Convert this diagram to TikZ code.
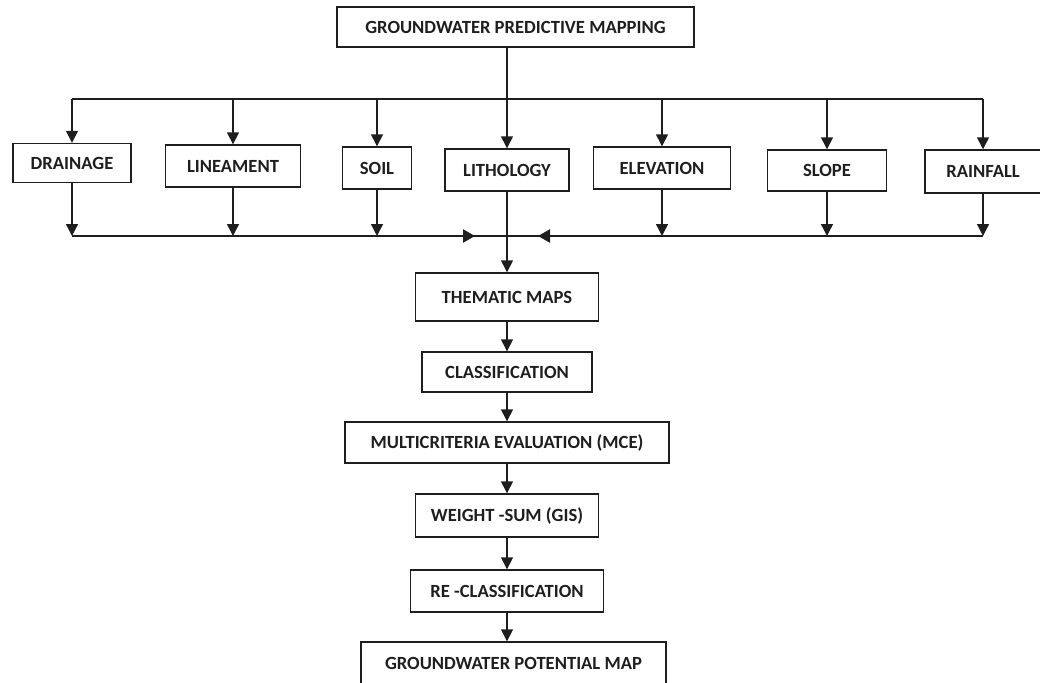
\documentclass[tikz,border=0pt]{standalone}
\usepackage{fontspec}
\setmainfont{Carlito}
\usetikzlibrary{arrows,arrows.meta,shapes}
\definecolor{ink}{HTML}{1E1E1E}
\tikzstyle{box}=[rectangle, draw=ink, text=ink
,line width=1.4pt
,inner sep=0pt
,font=\bfseries\fontsize{18.6}{21}\selectfont
]
\tikzstyle{edge} = [draw=ink,line width=1.4pt,-{Triangle[width=12pt,length=12pt]}]
\tikzstyle{line} = [draw=ink,line width=1.4pt,-]
\tikzstyle{busarrow} = [draw=ink,line width=2.4pt,-{Triangle[width=13pt,length=12pt]}]

\begin{document}
\begin{tikzpicture}[x=1pt,y=-1pt]
    \useasboundingbox (0,0) rectangle (1040,682);
    % Top box
    \node[box, minimum width=357pt, minimum height=40pt] (predmap) at (515.5,27) {GROUNDWATER PREDICTIVE MAPPING};

    % The seven input layers
    \foreach \pos/\name/\wid/\hei/\txt in {{(72,163)/drain/118/39/DRAINAGE}, {(233,166)/linea/135/42/LINEAMENT},
        {(377,168)/soil/69/42/SOIL}, {(507,170)/litho/124/42/LITHOLOGY}, {(662,168)/elev/137/42/ELEVATION},
        {(827,170.5)/slope/119/41/SLOPE}, {(983,171.5)/rain/116/43/RAINFALL}}
        \node[box, minimum width=\wid pt, minimum height=\hei pt] (\name) at \pos {\txt};

    % The processing chain
    \foreach \pos/\name/\wid/\hei/\txt in {{(507,297)/them/183/48/THEMATIC MAPS}, {(507,372)/class/170/40/CLASSIFICATION},
        {(507,442.5)/mce/324/41/MULTICRITERIA EVALUATION (MCE)}, {(507,515.5)/wsum/183/43/WEIGHT -SUM (GIS)},
        {(507,591)/recl/193/42/RE -CLASSIFICATION}, {(513.5,663)/potmap/305/42/GROUNDWATER POTENTIAL MAP}}
        \node[box, minimum width=\wid pt, minimum height=\hei pt] (\name) at \pos {\txt};

    \coordinate (bustop) at (507,99);
    \coordinate (busbot) at (507,236);

    % Split to the layers
    \path[edge] (predmap.south -| litho.north) -- (litho.north);
    \path[line] (drain.north |- bustop) -- (rain.north |- bustop);
    \foreach \name in {drain, linea, soil, elev, slope, rain}
        \path[edge] (\name.north |- bustop) -- (\name.north);

    % Merge back into the thematic maps
    \foreach \name in {drain, linea, soil, elev, slope, rain}
        \path[edge] (\name.south) -- (\name.south |- busbot);
    \path[line] (drain.south |- busbot) -- (rain.south |- busbot);
    \path[busarrow] ([xshift=-77pt]busbot) -- ([xshift=-32pt]busbot);
    \path[busarrow] ([xshift=78pt]busbot) -- ([xshift=31pt]busbot);
    \path[edge] (litho.south) -- (them.north);

    % Connect the chain
    \foreach \source/\dest in {them/class, class/mce, mce/wsum, wsum/recl}
        \path[edge] (\source) -- (\dest);
    \path[edge] (recl.south) -- (recl.south |- potmap.north);
\end{tikzpicture}
\end{document}
